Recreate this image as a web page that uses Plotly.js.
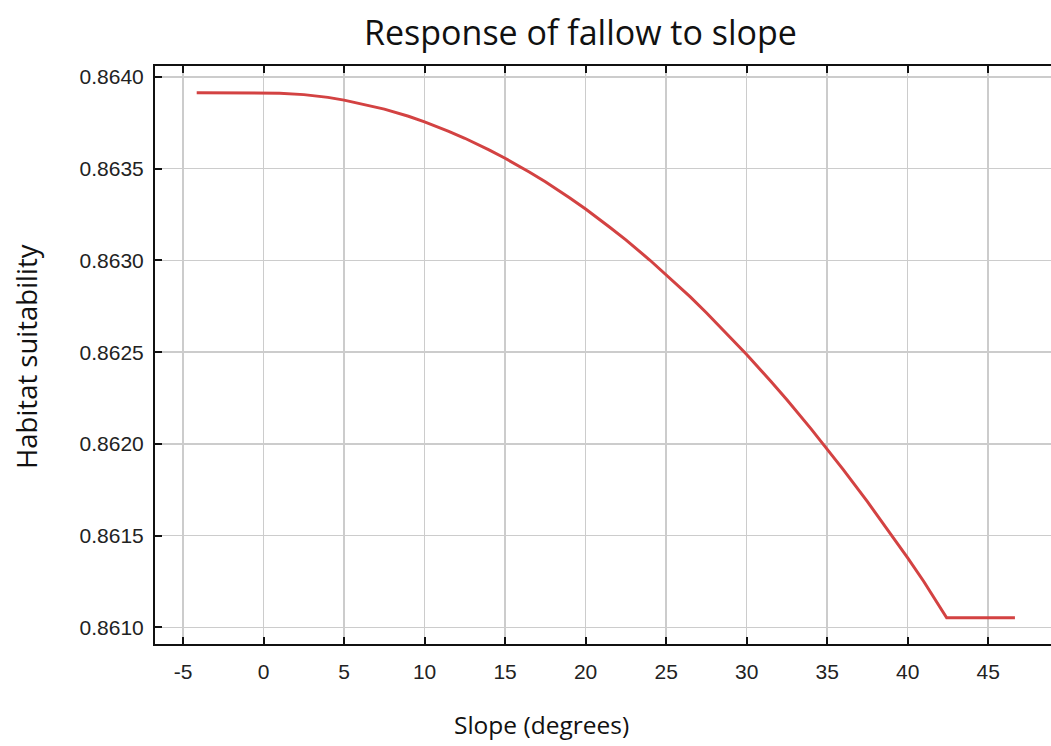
<!DOCTYPE html>
<html>
<head>
<meta charset="utf-8">
<script src="https://cdn.plot.ly/plotly-3.0.1.min.js"></script>
<style>html,body{margin:0;padding:0;background:#fff;}#chart{width:1051px;height:746px;}</style>
</head>
<body>
<div id="chart"></div>
<script>
// Slope (degrees)
const slope = [-4.15, 0, 1, 2.5, 4, 5, 6.5, 7.5, 9, 10, 11.5, 12.5, 14, 15, 16.5, 17.5, 19, 20, 21.5, 22.5, 24, 25, 26.5, 27.5, 29, 30, 31.5, 32.5, 34, 35, 36, 37.5, 39, 40, 41, 42.42, 46.66];
// Habitat suitability
const suitability = [0.863914, 0.863914, 0.863912, 0.863904, 0.863889, 0.863874, 0.863847, 0.863825, 0.863786, 0.863755, 0.863704, 0.863666, 0.863603, 0.863557, 0.863482, 0.863429, 0.863342, 0.863280, 0.863181, 0.863112, 0.863001, 0.862923, 0.862801, 0.862715, 0.862581, 0.862487, 0.862341, 0.862240, 0.862082, 0.861972, 0.861860, 0.861685, 0.861503, 0.861378, 0.861250, 0.861052, 0.861052];
const xTicks = [-5, 0, 5, 10, 15, 20, 25, 30, 35, 40, 45];
const yTicks = [0.8610, 0.8615, 0.8620, 0.8625, 0.8630, 0.8635, 0.8640];
const yTickText = ["0.8610", "0.8615", "0.8620", "0.8625", "0.8630", "0.8635", "0.8640"];

const trace = {
  x: slope, y: suitability, type: 'scatter', mode: 'lines',
  line: {color: '#d34242', width: 3, shape: 'linear'}, hoverinfo: 'skip'
};

const tickFont = {family: 'Liberation Sans, Arial, sans-serif', size: 21, color: '#222'};
const titleFont = {family: 'Open Sans, Noto Sans, sans-serif', color: '#111'};

const layout = {
  width: 1051, height: 746,
  margin: {l: 155, r: 0, t: 66, b: 102},
  paper_bgcolor: '#fff', plot_bgcolor: '#fff',
  showlegend: false,
  xaxis: {
    range: [-6.74, 48.9], tickvals: xTicks, ticktext: xTicks.map(String),
    ticks: 'inside', ticklen: 7, tickwidth: 2, tickcolor: '#111',
    showline: true, linecolor: '#111', linewidth: 2, mirror: 'ticks',
    showgrid: true, gridcolor: '#cccccc', gridwidth: 1.5, zeroline: false,
    tickfont: tickFont, ticklabelstandoff: 8
  },
  yaxis: {
    range: [0.860909, 0.86406], tickvals: yTicks, ticktext: yTickText,
    ticks: 'inside', ticklen: 7, tickwidth: 2, tickcolor: '#111',
    showline: true, linecolor: '#111', linewidth: 2, mirror: false,
    showgrid: true, gridcolor: '#cccccc', gridwidth: 1.5, zeroline: false,
    tickfont: tickFont, ticklabelstandoff: 5
  },
  annotations: [
    {text: 'Response of fallow to slope', xref: 'paper', yref: 'paper', x: (580-155)/896, y: 1,
     xanchor: 'center', yanchor: 'middle', showarrow: false, yshift: 34,
     font: Object.assign({size: 34}, titleFont)},
    {text: 'Slope (degrees)', xref: 'paper', yref: 'paper', x: (541-155)/896, y: 0,
     xanchor: 'center', yanchor: 'middle', showarrow: false, yshift: -80,
     font: Object.assign({size: 24.5}, titleFont)},
    {text: 'Habitat suitability', xref: 'paper', yref: 'paper', x: 0, y: (644-357)/578,
     xanchor: 'center', yanchor: 'middle', showarrow: false, textangle: -90, xshift: -129,
     font: Object.assign({size: 27.5}, titleFont)}
  ]
};

Plotly.newPlot('chart', [trace], layout, {displayModeBar: false, staticPlot: true});
</script>
</body>
</html>
